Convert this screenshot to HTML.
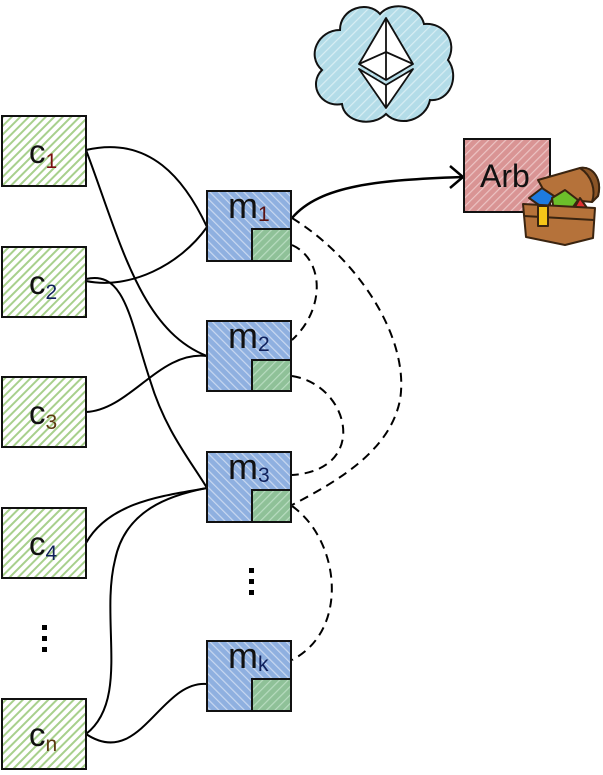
<!DOCTYPE html>
<html><head><meta charset="utf-8"><style>
html,body{margin:0;padding:0;background:#fff;}
svg{display:block;}
text{font-family:"Liberation Sans","DejaVu Sans",sans-serif;}
</style></head><body>
<svg width="603" height="775" viewBox="0 0 603 775" xmlns="http://www.w3.org/2000/svg">
<defs>
<pattern id="hg" width="6" height="6" patternUnits="userSpaceOnUse" patternTransform="rotate(45)">
<rect width="6" height="6" fill="#fff"/><rect width="2" height="6" fill="#a8d08d"/></pattern>
<pattern id="hb" width="6" height="6" patternUnits="userSpaceOnUse" patternTransform="rotate(-45)">
<rect width="6" height="6" fill="#8fb0e0"/><rect width="1.2" height="6" fill="#c9d8f0"/></pattern>
<pattern id="hgr" width="6" height="6" patternUnits="userSpaceOnUse" patternTransform="rotate(45)">
<rect width="6" height="6" fill="#8fc198"/><rect width="1.2" height="6" fill="#b8dcc0"/></pattern>
<pattern id="hr" width="6" height="6" patternUnits="userSpaceOnUse" patternTransform="rotate(45)">
<rect width="6" height="6" fill="#d99494"/><rect width="1.2" height="6" fill="#ecc4c4"/></pattern>
<pattern id="hc" width="7" height="7" patternUnits="userSpaceOnUse" patternTransform="rotate(45)">
<rect width="7" height="7" fill="#b3dce8"/><rect width="1.2" height="7" fill="#d8eef4"/></pattern>
</defs>

<!-- cloud -->
<path d="M340,30 C340,8 368,0 380,14 C392,0 420,6 424,24 C444,22 458,42 448,60 C460,76 450,102 430,100 C426,120 400,128 386,114 C372,128 344,122 342,104 C320,108 308,84 322,70 C306,56 318,30 340,30 Z" fill="url(#hc)" stroke="#111" stroke-width="2"/>
<g fill="#fff" stroke="#111" stroke-width="1.8" stroke-linejoin="round">
<path d="M386,18 L359,64 L386,80 L413,64 Z"/>
<path d="M359,69 L386,108 L413,69 L386,85 Z"/>
<path d="M359,64 L386,52 L413,64 M386,18 L386,80 M386,85 L386,108" fill="none"/>
</g>

<!-- connectors solid -->
<g fill="none" stroke="#000" stroke-width="2">
<path d="M86,150 C150,135 185,180 207,227"/>
<path d="M86,150 C120,240 140,330 207,356"/>
<path d="M86,281 C130,290 180,265 207,227"/>
<path d="M86,279 C125,270 130,320 150,380 C165,430 190,460 207,488"/>
<path d="M86,412 C130,410 160,350 207,356"/>
<path d="M86,543 C110,500 170,495 207,488"/>
<path d="M86,734 C130,700 100,620 115,560 C125,510 170,495 207,488"/>
<path d="M86,734 C140,770 160,680 207,684"/>
<path d="M292,218 C320,185 380,180 462,177" stroke-width="2.5"/>
<path d="M450,166 L463,177 L450,188" stroke-width="2.5"/>
</g>
<!-- dashed -->
<g fill="none" stroke="#000" stroke-width="2" stroke-dasharray="9,6">
<path d="M292,245 C325,260 325,310 292,340"/>
<path d="M292,218 C360,260 410,340 400,400 C390,450 340,480 292,505"/>
<path d="M292,376 C350,385 370,470 292,475"/>
<path d="M292,506 C340,540 350,630 292,660"/>
</g>

<!-- c boxes -->
<g stroke="#111" stroke-width="2">
<rect x="2" y="116" width="84" height="70" fill="url(#hg)"/>
<rect x="2" y="247" width="84" height="70" fill="url(#hg)"/>
<rect x="2" y="377" width="84" height="70" fill="url(#hg)"/>
<rect x="2" y="508" width="84" height="70" fill="url(#hg)"/>
<rect x="2" y="699" width="84" height="70" fill="url(#hg)"/>
</g>
<g font-size="33" fill="#111">
<text x="29" y="163">c<tspan font-size="21" fill="#7a1010" dy="5">1</tspan></text>
<text x="29" y="294">c<tspan font-size="21" fill="#10205a" dy="5">2</tspan></text>
<text x="29" y="424">c<tspan font-size="21" fill="#5a3a10" dy="5">3</tspan></text>
<text x="29" y="555">c<tspan font-size="21" fill="#10205a" dy="5">4</tspan></text>
<text x="29" y="746">c<tspan font-size="21" fill="#5a3a10" dy="5">n</tspan></text>
</g>
<g fill="#000"><rect x="42" y="625" width="5" height="5"/><rect x="42" y="636" width="5" height="5"/><rect x="42" y="647" width="5" height="5"/>
<rect x="249" y="568" width="5" height="5"/><rect x="249" y="579" width="5" height="5"/><rect x="249" y="590" width="5" height="5"/></g>

<!-- m boxes -->
<g stroke="#111" stroke-width="2">
<rect x="207" y="191" width="84" height="70" fill="url(#hb)"/><rect x="252" y="229" width="39" height="32" fill="url(#hgr)"/>
<rect x="207" y="321" width="84" height="70" fill="url(#hb)"/><rect x="252" y="360" width="39" height="31" fill="url(#hgr)"/>
<rect x="207" y="452" width="84" height="70" fill="url(#hb)"/><rect x="252" y="490" width="39" height="32" fill="url(#hgr)"/>
<rect x="207" y="641" width="84" height="70" fill="url(#hb)"/><rect x="252" y="679" width="39" height="32" fill="url(#hgr)"/>
</g>
<g font-size="36" fill="#111">
<text x="228" y="218">m<tspan font-size="21" fill="#5a1010" dy="3">1</tspan></text>
<text x="228" y="348">m<tspan font-size="21" fill="#10205a" dy="3">2</tspan></text>
<text x="228" y="479">m<tspan font-size="21" fill="#10205a" dy="3">3</tspan></text>
<text x="228" y="668">m<tspan font-size="21" fill="#10205a" dy="3">k</tspan></text>
</g>

<!-- Arb -->
<rect x="464" y="139" width="86" height="73" fill="url(#hr)" stroke="#111" stroke-width="2"/>
<text x="480" y="187" font-size="32" fill="#111">Arb</text>

<!-- chest -->
<g stroke="#3a2410" stroke-width="2" stroke-linejoin="round">
<path d="M538,180 L580,168 C594,166 602,180 598,196 L592,202 L548,198 Z" fill="#b5723a"/>
<path d="M580,168 C594,166 602,180 598,196 L592,202 C596,190 592,176 580,168 Z" fill="#8a5426"/>
<path d="M529,198 L542,188 L554,196 L546,210 Z" fill="#1e7be0"/>
<path d="M552,198 L565,190 L578,200 L568,214 L554,212 Z" fill="#6cbf2a"/>
<path d="M572,212 L580,198 L590,212 Z" fill="#e03030"/>
<path d="M523,204 L595,208 L593,238 L565,245 L526,237 Z" fill="#b5723a"/>
<path d="M524,216 L594,220" fill="none"/>
<rect x="538" y="206" width="10" height="20" fill="#f5c518"/>
</g>
</svg>
</body></html>
